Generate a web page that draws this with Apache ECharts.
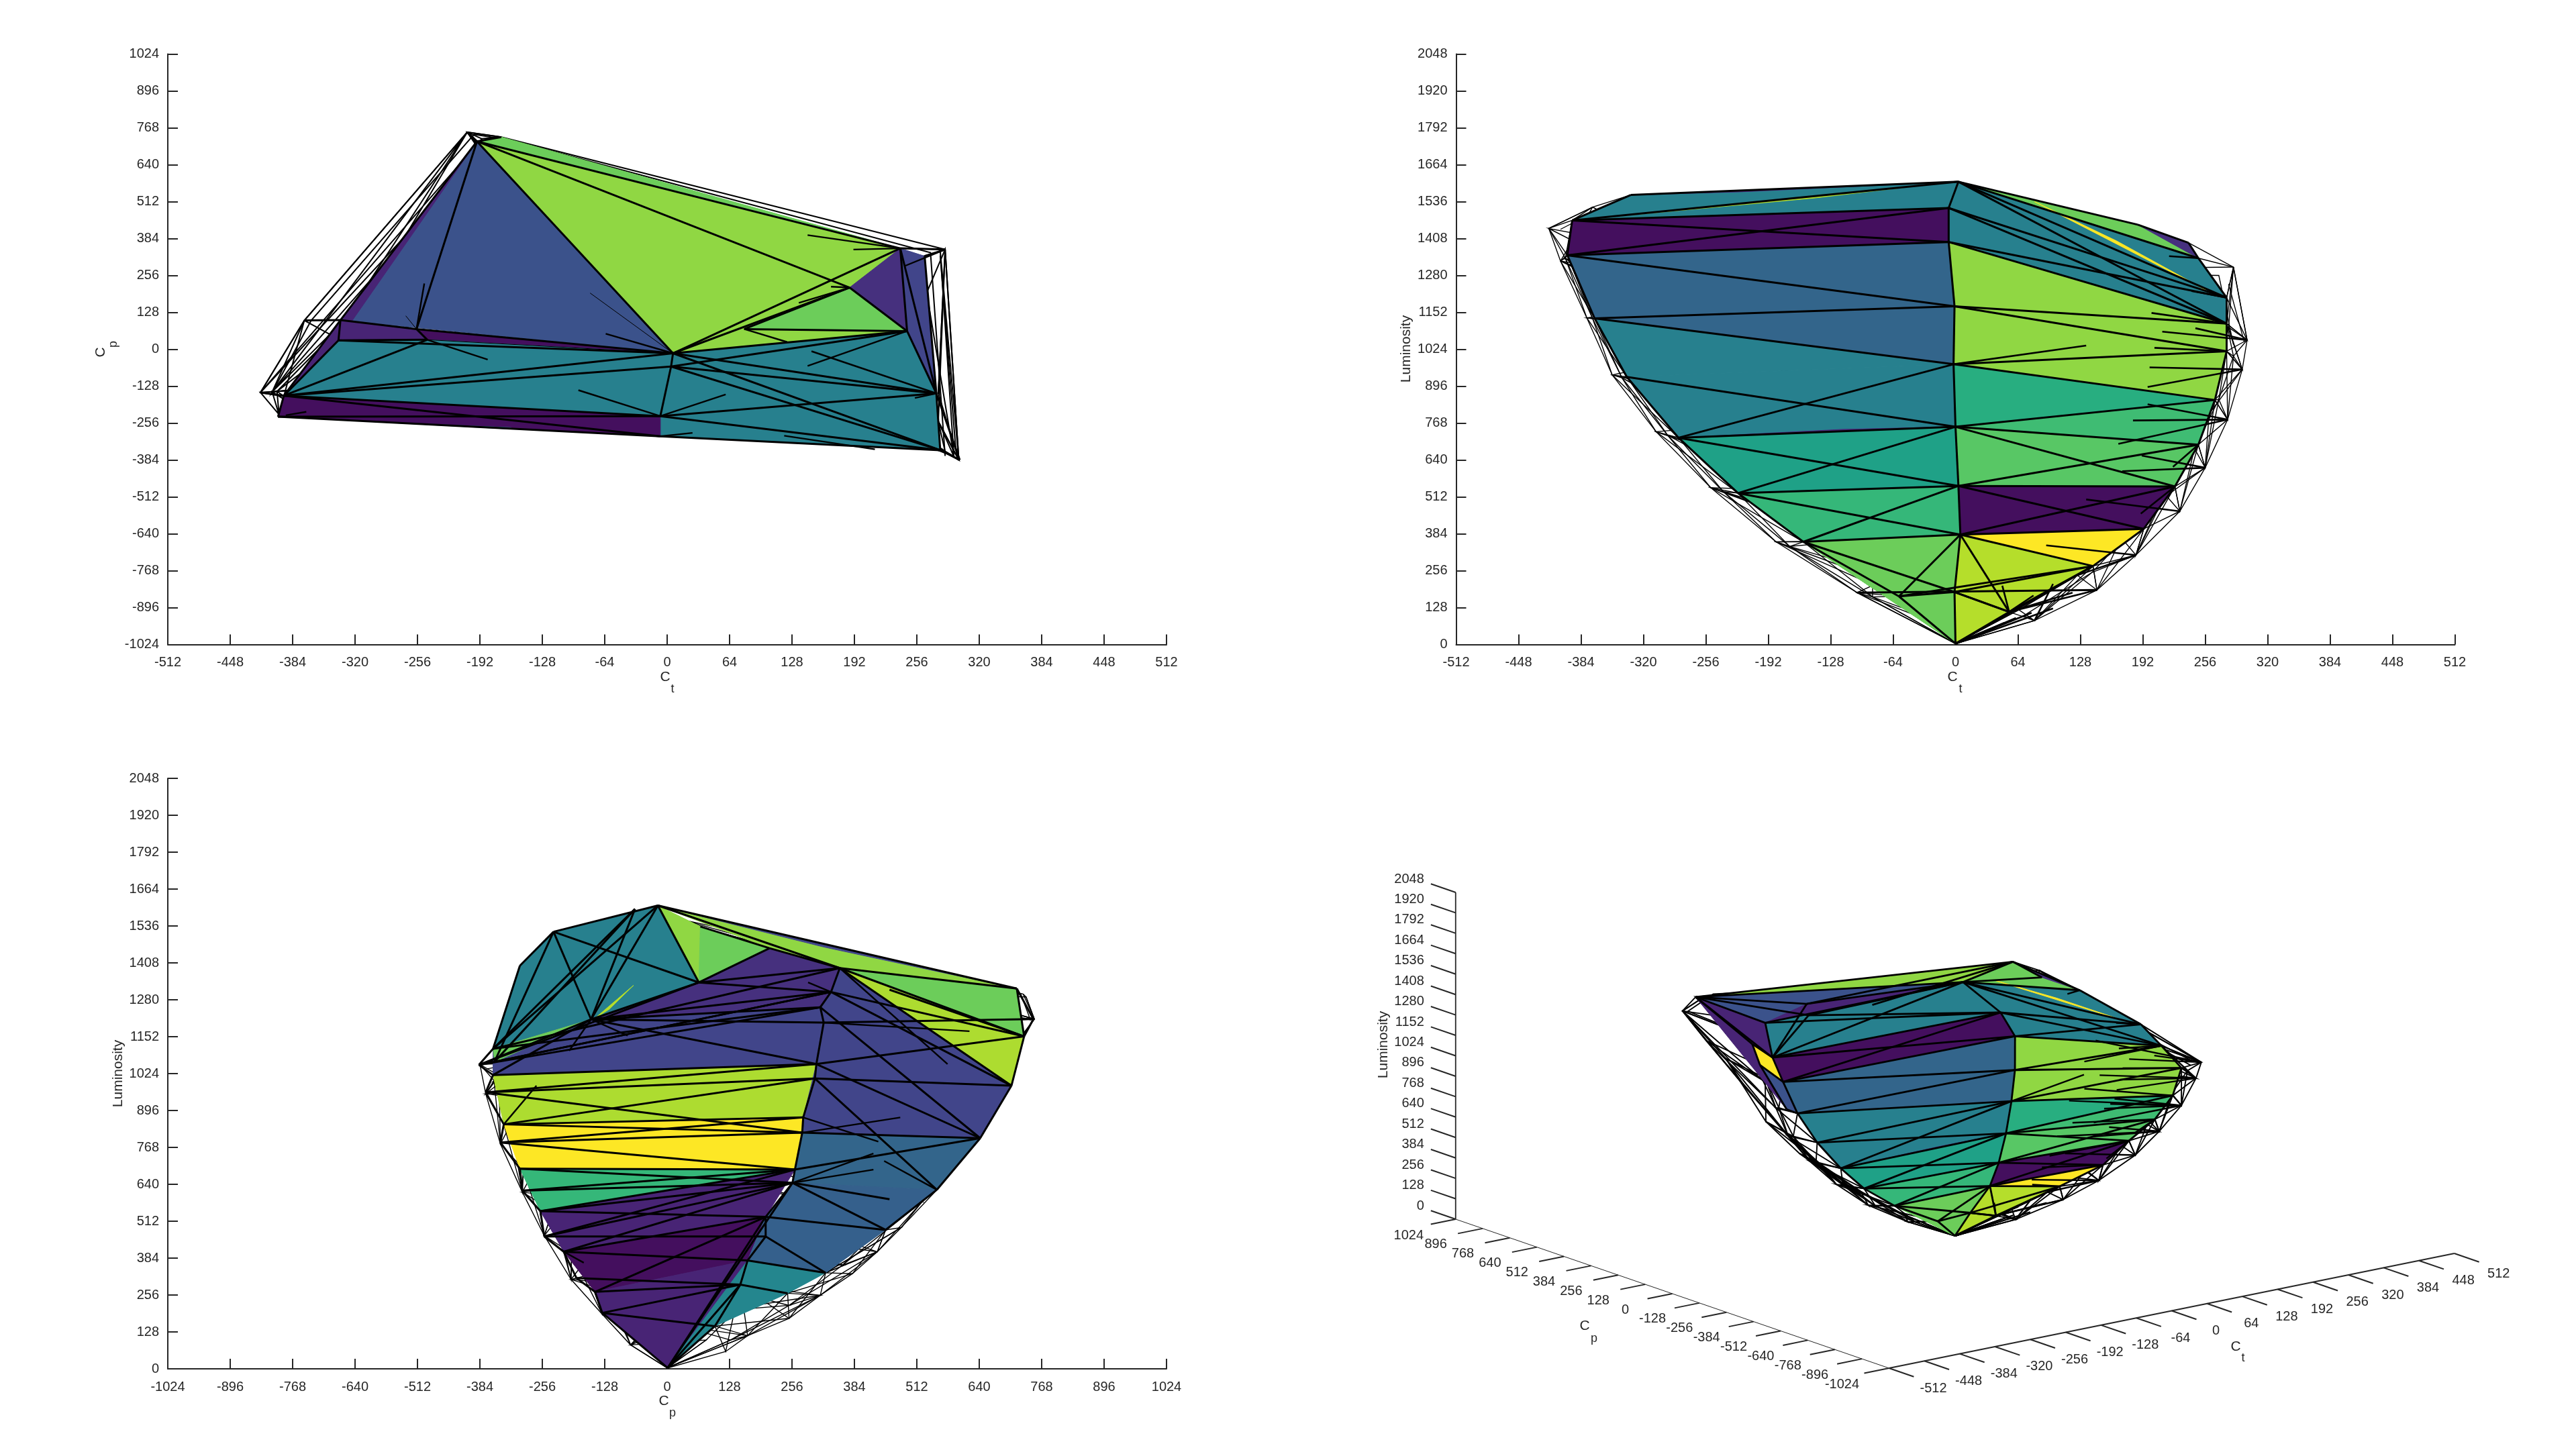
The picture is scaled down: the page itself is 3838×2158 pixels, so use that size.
<!DOCTYPE html>
<html><head><meta charset="utf-8">
<style>html,body{margin:0;padding:0;background:#fff}#c{width:3838px;height:2158px}</style>
<script src="https://cdn.jsdelivr.net/npm/echarts@6/dist/echarts.min.js"></script>
</head><body><div id="c"></div>
<script>
// ---------- tick values ----------
const ctTicks = [-512,-448,-384,-320,-256,-192,-128,-64,0,64,128,192,256,320,384,448,512];
const cpTicks = [-1024,-896,-768,-640,-512,-384,-256,-128,0,128,256,384,512,640,768,896,1024];
const lumTicks = [0,128,256,384,512,640,768,896,1024,1152,1280,1408,1536,1664,1792,1920,2048];

// ---------- face colours (viridis steps) ----------
const palette = {deep:'#440f5e',dark:'#482475',violet:'#46307e',indigo:'#41458a',slate:'#3b528b',steel:'#35608c',blue:'#33658b',
  teal:'#27808e',tealB:'#24868e',sea:'#1fa187',seaB:'#28ae80',green:'#35b779',greenB:'#3fbc73',mid:'#58c765',light:'#6ccd5a',
  lime:'#90d743',oliveB:'#addc30',olive:'#b5de2b',yellow:'#fde725'};

// ---------- 3-D hull points: [Ct, Cp, Luminosity] ----------
const hull = {
 s0:[3,-30,1605],s1:[-7,-234,1514],s2:[-7,-302,1396],s3:[-1,-286,1173],s4:[-2,-272,972],s5:[0,-241,755],s6:[3,-199,550],s7:[5,-152,381],s8:[-1,-75,182],s9:[0,0,3],
 l1:[-333,28,1559],l2:[-393,-163,1471],l3:[-398,-226,1350],l4:[-370,-221,1131],l5:[-337,-228,928],l6:[-284,-201,717],l7:[-223,-152,525],l8:[-156,-122,356],l9:[-58,-70,167],
 r1:[187,77,1456],r2:[239,350,1393],r3:[249,60,1340],r4:[278,-153,1203],r5:[278,-250,1113],r6:[278,-345,1017],r7:[266,-335,848],r8:[249,-295,693],r9:[225,-235,548],r10:[193,-196,401],r11:[141,-127,272],r12:[55,-50,113],
 a1:[-101,-40,180],a2:[-184,-70,356],a3:[-251,-95,544],a4:[-307,-115,738],a5:[-352,-130,935],a6:[-378,-140,1133],a7:[-405,-148,1330],a8:[-417,-150,1443],a9:[-372,100,1517],
 b1:[-85,-35,165],b2:[-170,-68,340],b3:[-238,-92,530],b4:[-295,-113,725],b5:[-342,-128,925],b6:[-372,-138,1130],b7:[-400,-146,1340],
 d1:[81,-75,83],d2:[145,-133,189],d3:[185,-197,310],d4:[230,-252,462],d5:[256,-297,613],d6:[279,-342,780],d7:[294,-372,954],d8:[299,-384,1056],
 f1:[65,-55,120],f2:[125,-110,240],f3:[170,-170,370],f4:[215,-225,520],f5:[245,-275,680],f6:[270,-320,850],f7:[285,-355,1000],
 g1:[-45,165,115],g2:[-85,314,255],g3:[-117,431,406],g4:[-142,523,580],g5:[-172,636,947],g6:[-205,753,1213],
 h1:[-40,130,100],h2:[-75,250,220],h3:[-105,360,360],h4:[-130,460,530],h5:[-160,570,780],h6:[-190,680,1050],
 c:[285,346,1309],c1:[70,80,100],c2:[140,170,250],c3:[210,260,500],c4:[260,320,800],c5:[280,340,1100],c6:[270,335,1280],c7:[280,325,1250],
 e1:[-170,736,1290],e2:[-160,725,1300],a8b:[-405,-150,1440],a9b:[-365,100,1510],g6b:[-198,745,1210],d8b:[285,-370,1040],d8c:[296,-350,1050],
 T1:[-190,730,1300],y1:[-329,100,1391],y2:[-315,100,1250],y3:[-305,0,1010],v1:[-192,200,1500],v2:[-246,50,1535],
 t1:[-53,-20,1585],t2:[-146,10,1548],t3:[-221,20,1570],x1:[-116,-225,746],x2:[-110,-175,535],n1:[81,30,1536],n2:[257,-130,1229],n3:[165,-50,1400],z1:[126,-115,245]
};

// shared front faces (colour, then hull points)
const frontFaces = [
 ['teal','s0','l1','l2'],['teal','s0','s1','l2'],['deep','l2','s1','s2'],['deep','l2','s2','l3'],
 ['blue','l3','s2','s3'],['blue','l3','s3','l4'],['blue','l4','s3','s4'],
 ['teal','l4','s4','l5'],['teal','l5','s4','s5'],['teal','l5','s5','l6'],['dark','l6','s5','x1'],
 ['sea','l6','s5','s6'],['sea','l6','s6','l7'],['green','l7','s6','s7'],['green','l7','s7','l8'],
 ['light','l8','s7','s8'],['light','l8','s8','s9'],['light','l8','s9','l9'],
 ['light','s0','r1','r3'],['light','s0','r2','r3'],['violet','r1','r2','r3'],
 ['teal','s0','r3','r4','r5','s2','s1'],['yellow','n1','n2','n3'],
 ['lime','s2','s3','r6','r5'],['lime','s3','s4','r7','r6'],['seaB','s4','s5','r7'],['greenB','s5','r7','r8'],
 ['mid','s5','s6','r9','r8'],['deep','s6','r9','r10','s7'],['yellow','s7','r10','r11'],
 ['olive','s7','r11','s8'],['olive','s8','r11','r12','s9'],['indigo','r12','r11','z1']
];
const ctLumOnlyFaces = [['olive','l2','t1','t2'],['dark','l1','s0','t3']];
const isoBackFaces = [
 ['lime','T1','r2','s0'],['slate','T1','s0','l1'],['dark','v1','s0','l1'],['dark','T1','l1','l2'],
 ['dark','T1','l2','y1'],['dark','T1','y1','y2','y3'],['slate','y2','l3','l4','y3'],['yellow','y1','l2','l3','y2']
];
const isoFrontExtra = [['dark','l7','s6','x2']];

// shared bold edges
const frontEdges = 's0-l1 l1-l2 l2-l3 l3-l4 l4-l5 l5-l6 l6-l7 l7-l8 l8-l9 l9-s9 s0-r1 r1-r2 r2-r3 r3-r4 r4-r5 r5-r6 r6-r7 r7-r8 r8-r9 r9-r10 r10-r11 r11-r12 r12-s9 s0-s1 s1-s2 s2-s3 s3-s4 s4-s5 s5-s6 s6-s7 s7-s8 s8-s9 s0-l2 s1-l2 s2-l2 l3-s1 l3-s2 l3-s3 l4-s3 l4-s4 l5-s5 l6-s4 l6-s5 l6-s6 l7-s5 l7-s6 l7-s7 l8-s6 l8-s7 l8-s8 l9-s7 l9-s8 s0-r3 s0-r4 s0-r5 s1-r4 s1-r5 s2-r4 s2-r5 s3-r5 s3-r6 s4-r6 s4-r7 s5-r7 s5-r8 s6-r8 s5-r9 s6-r9 s7-r9 s6-r10 s7-r10 s7-r11 s8-r11 s8-r12 s7-r12 r11-s9 r12-s8';
const ctLumEdges = 'a1-d2 l9-r11';
const isoEdges = 'T1-r2 T1-s0 T1-l1 T1-l2 T1-y1 T1-v1 l1-s1 s0-r2 y1-y2 l2-y1 l3-y2 y2-y3 l4-y3 v1-l2 v1-s0 v2-s1 v2-l2 v2-s0 l5-s4 v2-T1 v1-r2 t2-r2';

// stray short strokes: start point, end hull point
const strokes = [
 [[199,-260,961],'d7'],[[197,-250,893],'d7'],[[204,-260,1029],'r6'],[[212,-270,1085],'d8'],[[201,-250,1150],'r5'],[[246,-300,1097],'d8'],
 [[197,-240,833],'d6'],[[182,-230,777],'d6'],[[167,-220,696],'d6'],[[171,-210,601],'d5'],[[191,-230,655],'d5'],[[223,-270,616],'r8'],
 [[134,-170,503],'d4'],[[190,-220,454],'r9'],[[93,-120,344],'d3'],[[134,-260,1037],'s4'],[[242,-130,1226],'r4'],[[219,40,1347],'r3'],
 [[48,-60,204],'r12'],[[80,-90,170],'r12'],[[100,-100,210],'d1'],[[120,-120,180],'r12'],
 [[30,-30,40],'s9'],[[40,-40,55],'s9'],[[50,-50,75],'s9'],[[62,-60,92],'s9'],[[78,-72,110],'s9'],[[100,-95,125],'s9'],[[145,-133,189],'r12'],[[185,-197,310],'f2']
];
const isoStrokes = [
 [[159,-250,1229],'d8'],[[150,-220,1090],'r5'],[[170,-240,1000],'d7'],[[150,-220,920],'r7'],[[130,-200,850],'d6'],
 [[174,-280,835],'d6'],[[140,-190,700],'r8'],[[120,-170,620],'d5'],[[110,-160,500],'r9'],[[100,-150,430],'r10'],[[90,-130,320],'r11']
];

// thin outer shell polylines
const shell = [
 ['s9','a1','a2','a3','a4','a5','a6','a7','a8','a9','l1'],
 ['s9','a1','l9','a2','l8','a3','l7','a4','l6','a5','l5','a6','l4','a7','l3','a8','l2','a9'],
 ['s9','b1','b2','b3','b4','b5','b6','b7','a8'],
 ['s9','b1','a1','b2','a2','b3','a3','b4','a4','b5','a5','b6','a6','b7','a7'],
 ['l9','b1','l8','b2','l7','b3','l6','b4','l5','b5','l4','b6','l3','b7','l2'],
 ['s9','g1','g2','g3','g4','g5','g6','e1','c'],
 ['s9','h1','h2','h3','h4','h5','h6','g6'],
 ['s9','g1','h1','g2','h2','g3','h3','g4','h4','g5','h5','g6','h6'],
 ['s9','h1','a1','h2','a2','h3','a3','h4','a4','h5','a5','h6','a6','g6','a7','a9','g6'],
 ['g6','l1','T1','a8','h6','a7','g5','b7','g4','b5','h4','b4','g3','b3','h3','b2','g2','b1','g1'],
 ['s9','d1','d2','d3','d4','d5','d6','d7','d8','c','r3'],
 ['s9','d1','r12','d2','r11','d3','r10','d4','r9','d5','r8','d6','r7','d7','r6','d8','r5','c','r4'],
 ['s9','f1','f2','f3','f4','f5','f6','f7','d8'],
 ['s9','f1','d1','f2','d2','f3','d3','f4','d4','f5','d5','f6','d6','f7','d7'],
 ['r12','f1','r11','f2','r10','f3','r9','f4','r8','f5','r7','f6','r6','f7','r5'],
 ['d1','r11','d2','r10','d3','r9','d4','r8','d5','r7','d6','r6','d7','r5','d8','r4','c'],
 ['s9','c1','c2','c3','c4','c5','c'],
 ['s9','c1','d1','c2','d3','c3','d5','c4','d7','c5','d8','c'],
 ['a8','a9','g6','e1'],['a8b','a9b','g6b','e2','c6','d8b'],['c7','d8c'],['c','r2'],['g6','T1'],['e1','T1']
];

// ---------- top view: [Ct, Cp] ----------
const topPts = {A:[-195,721],B:[239,350],C:[246,63],D:[276,-153],E:[280,-350],F:[6,-14],G:[4,-60],H:[-7,-232],I:[-7,-302],J:[-393,-161],K:[-399,-234],M:[-337,31],N:[-335,101],O:[-257,70],P:[-246,33],Q:[187,214],R:[79,70],T:[-170,736],U:[264,323],
 sA:[-310,-250],sB:[-160,-277],sC:[-160,-272],a:[-417,-150],b:[-372,100],w:[-205,753],c:[285,346],d:[300,-384],
 k1:[144,396],k2:[191,346],k3:[-249,228],k5:[-63,54],k6:[-184,-36],k7:[-91,-142],k8:[60,-157],k9:[148,-7],k10:[144,-58],k11:[243,288],k12:[135,161],k13:[120,-300],k14:[213,-347],k15:[26,-290],k16:[-391,-229],k17:[-370,-217],k18:[123,25],k19:[254,-169],k20:[168,217],k21:[-268,116],k22:[-79,195]};
const topFaces = [
 ['light','A','T','B'],['lime','A','B','F'],['lime','R','C','F'],['lime','Q','R','F','B'],['light','R','Q','C'],
 ['violet','B','Q','C'],['indigo','B','U','D','C'],['slate','A','F','N'],['dark','A','N','J','M'],['dark','N','O','P','M'],['deep','O','F','P'],
 ['teal','J','M','P','F','C','D','H'],['teal','H','D','E','I'],['deep','J','H','I','K'],['teal','sA','sB','sC']
];
const topEdges = 'A-B A-F F-B A-N N-J J-K K-I I-E J-H K-H J-I H-E H-D J-F M-F J-G J-P M-P M-J N-M N-O O-F G-H F-G G-D F-D F-E G-E F-C R-C F-Q R-Q Q-A Q-C B-C B-D C-D U-D D-E G-C A-O O-P J-a N-b A-w c-U c-B d-E d-D T-A';
const topThin = 'k3-O k5-F k6-P k7-H k8-H k9-D k10-C k11-c k12-Q k13-k14 k15-I k16-k17 k18-R k19-D k20-Q k1-B k2-B';
const topHair = 'P-F k21-O k22-F';

// ---------- side view: [Cp, Luminosity] ----------
const sidePts = {p0:[-19,1607],p0b:[-66,1595],p1:[-233,1516],p2:[-302,1398],p3:[-357,1110],p3b:[-354,1065],p4:[-386,1054],p5:[-357,1019],p6:[-372,959],p7:[-335,848],p8:[-342,785],p9:[-302,694],p10:[-297,618],p11:[-260,547],p12:[-252,459],p12b:[-186,315],p13:[-212,406],p14:[-148,267],p15:[-133,194],t:[1,3],
 q1:[65,1340],q2:[-156,1212],q3:[210,1459],q4:[354,1390],q5:[717,1319],q6:[751,1213],q7:[732,1153],q8:[706,982],q9:[642,800],q10:[553,621],q11:[448,482],q12:[325,333],q13:[247,262],q14:[336,1307],q15:[314,1254],q16:[306,1057],q17:[303,1007],q18:[279,872],q19:[277,819],q20:[262,691],q21:[257,645],q22:[202,527],q22b:[202,459],q23:[165,376],q24:[150,292],q25:[98,148],q26:[68,1534],q27:[321,1201],q28:[456,1315],q29:[456,588],q30:[321,1463],
 k1:[289,1340],k2:[445,721],k3:[478,872],k4:[433,788],k5:[423,747],k6:[423,691],k7:[620,1171],k8:[575,1057],k9:[-268,982],k10:[-81,1156],k11:[-201,1103],k12:[-171,368],
 o1:[-148,1216],o2:[-69,1330],o3:[-119,1247],
 w1:[165,115],w2:[314,255],w3:[431,406],w4:[523,580],w5:[250,175],w6:[380,330],w7:[480,490],w8:[120,60]};
const sideFaces = [
 ['teal','p0','p1','p2','p3','q2','q1'],['olive','o1','o2','o3'],['lime','p0','q26','q1'],['light','q26','q3','q1'],['violet','q1','q3','q4','q14'],
 ['violet','q2','q1','q14','q15'],['indigo','p3','q2','q15','q16','p5'],['light','p3','q2','p3b'],
 ['oliveB','p5','q16','q18','p7'],['yellow','p7','q18','q20','p9'],['green','p9','q20','p11'],
 ['dark','p11','q20','q22','p13'],['deep','p13','q22','q23','p14'],['dark','p14','q23','q25','t','p15'],
 ['indigo','q4','q8','q9','q19','q18','q16','q15','q14'],['blue','q19','q9','q10','q21','q20'],['steel','q21','q10','q11','q12','q23','q22'],
 ['tealB','q23','q12','q13','q25','t'],['oliveB','q4','q8','q7'],['light','q4','q5','q7'],['lime','p0','q3','q4','q5'],['indigo','p0','q5','q30']
];
const sideEdges = 'p0-p1 p1-p2 p2-p3 p3-p4 p4-p5 p5-p6 p6-p7 p7-p8 p8-p9 p9-p10 p10-p11 p11-p12 p12-p13 p13-p12b p12b-p14 p14-p15 p15-t p0-q5 q5-q6 q6-q7 q7-q8 q8-q9 q9-q10 q10-q11 t-q25 q4-q14 q14-q15 q15-q27 q27-q16 q16-q17 q17-q18 q18-q19 q19-q20 q20-q21 q21-q22 q22-q22b q22b-q23 q23-q24 q24-q25 t-q22 t-q21 t-q24 p3-q4 p3b-q14 p4-q15 p4-q2 p5-q16 p5-q2 q2-q15 q2-q16 q2-q1 q1-q4 q1-q14 p6-q17 p6-q16 p7-q17 p6-q19 p7-q18 p7-q19 p8-q18 p8-q19 p9-q20 p10-q20 p8-q20 p9-q21 p10-q21 p11-q22 p11-q20 p12-q22b p12-q21 p13-q22 p13-q23 p12b-q24 p14-q22 p14-q24 p15-q24 p15-q25 q4-q8 q14-q8 q14-q7 q27-q6 q16-q7 q17-q8 q15-q9 q16-q9 q17-q10 q19-q9 q20-q9 q21-q29 q21-q11 q22-q11 q22b-q12 q23-q12 q24-q13 p0-q2 p0b-p3 p0-p3 p0-q1 p1-q1 p1-q2 q26-q3 q1-q3 q3-q4 p0-q4 q4-q5 q4-q7 q28-q7 q5-q7 p4-q14 p4-q1 p3-q15 q2-q27 p11-q21 p12-q20 p13-q21 q2-q14 p0b-q2 p1-p3b p0b-p3b';
const sideThin = 'k1-q14 k2-q10 k3-q19 k4-q18 k5-q21 k6-q21 k7-q27 k8-q4 k9-p7 k10-q2 k11-q2 k12-p13';
const sideShell = [
 ['t','w8','w1','w5','w2','w6','w3','w7','w4','q10'],
 ['t','q25','w8','q24','w1','q25','w5','q13','w2','q12','w6','q11','w3','q12','w7','q10'],
 ['q24','w5','q12','w3','q11','w4','q11','w7','q12'],['w1','q13','w6','q13']
];

// ---------- axis titles: text, x, y, size, rotation quarter-turns ----------
const axisTitles = [
 ['C',991,1009,21,0],['t',1002,1027,18,0],['C',150,525,21,1],['p',169,513,18,1],
 ['C',2909,1009,21,0],['t',2921,1027,18,0],['Luminosity',2095.5,520,21,1],
 ['C',989,2088,21,0],['p',1002,2106,18,0],['Luminosity',176,1600,21,1],
 ['Luminosity',2061,1557,21,1],['C',2361,1976,21,0],['p',2375,1995,18,0],['C',3331,2007,21,0],['t',3342,2024,18,0]
];

// ---------- helpers ----------
const FONT = '"Liberation Sans",Arial,sans-serif', INK = '#262626';
const iso = (ct,cp,l)=>[0.8225*ct-0.3153*cp, 0.167*ct+0.1084*cp+0.2378*l];
const viewCtCp = v=>[v[0],v[1]], viewCtL = v=>[v[0],v[2]], viewCpL = v=>[v[1],v[2]], viewIso = v=>iso(v[0],v[1],v[2]);
const pairs = s=>s.split(' ').map(e=>e.split('-'));
function faceItems(list, pt){ return list.map(f=>({fill:palette[f[0]],pts:f.slice(1).map(pt)})); }
function edgeItems(str, pt, width){ return pairs(str).map(([a,b])=>({stroke:'#000',width,pts:[pt(a),pt(b)]})); }
function shapeSeries(name, grid, items, z){
  return {type:'custom',name,xAxisIndex:grid,yAxisIndex:grid,z,silent:true,animation:false,clip:false,
    data:items.map((it,i)=>[it.pts[0][0],it.pts[0][1],i]),encode:{x:0,y:1},
    renderItem(params,api){
      const it=items[params.dataIndex];
      const points=it.pts.map(p=>api.coord(p));
      if(it.text!==undefined){const q=points[0];return {type:'text',style:{text:it.text,x:q[0]+it.dx,y:q[1]+it.dy,align:it.align,verticalAlign:'middle',fontSize:20,fontFamily:FONT,fill:INK}};}
      if(it.fill) return {type:'polygon',shape:{points},style:{fill:it.fill,stroke:it.fill,lineWidth:1}};
      return {type:'polyline',shape:{points},style:{fill:null,stroke:it.stroke,lineWidth:it.width}};
    }};
}
const P3 = n=>hull[n];
const wires=(view,width)=>{const out=[];shell.forEach(line=>out.push({stroke:'#000',width,pts:line.map(n=>view(P3(n)))}));return out;};
const strokeItems=(list,view,width)=>list.map(([s,e])=>({stroke:'#000',width,pts:[view(s),view(P3(e))]}));

// ---------- panels ----------
const pTop = n=>topPts[n], pSide = n=>sidePts[n], pCtL = n=>viewCtL(P3(n)), pIso = n=>viewIso(P3(n));
const series = [
 shapeSeries('Ct-Cp shell',0,wires(viewCtCp,2),2),
 shapeSeries('Ct-Cp faces',0,faceItems(topFaces,pTop),3),
 shapeSeries('Ct-Cp edges',0,edgeItems(topEdges,pTop,3).concat(edgeItems(topThin,pTop,2.4),edgeItems(topHair,pTop,1)),4),

 shapeSeries('Ct-L shell',1,wires(viewCtL,1.4),2),
 shapeSeries('Ct-L faces',1,faceItems(frontFaces.concat(ctLumOnlyFaces),pCtL),3),
 shapeSeries('Ct-L edges',1,edgeItems(frontEdges+' '+ctLumEdges,pCtL,3).concat(strokeItems(strokes,viewCtL,2.6)),4),

 shapeSeries('Cp-L shell',2,wires(viewCpL,1.4).concat(sideShell.map(l=>({stroke:'#000',width:1.4,pts:l.map(pSide)}))),2),
 shapeSeries('Cp-L faces',2,faceItems(sideFaces,pSide),3),
 shapeSeries('Cp-L edges',2,edgeItems(sideEdges,pSide,3).concat(edgeItems(sideThin,pSide,2.4)),4),

 shapeSeries('3D shell',3,wires(viewIso,1.9),2),
 shapeSeries('3D faces',3,faceItems(isoBackFaces.concat(frontFaces,isoFrontExtra),pIso),3),
 shapeSeries('3D edges',3,edgeItems(frontEdges+' '+isoEdges,pIso,2.8).concat(strokeItems(strokes,viewIso,2.4),strokeItems(isoStrokes,viewIso,2.4)),4)
];

// 3-D box axes, projected through the same hidden plane axes
const axis3d=[];
const line3=(a,b,w)=>axis3d.push({stroke:INK,width:w,pts:[iso(...a),iso(...b)]});
line3([-512,1024,0],[-512,1024,2048],1.8);
line3([-512,1024,0],[-512,-1024,0],1);
line3([-512,-1024,0],[512,-1024,0],2);
lumTicks.forEach(l=>{line3([-512,1024,l],[-512,1141,l],2);axis3d.push({text:String(l),pts:[iso(-512,1024,l)],dx:-47,dy:-20,align:'right'});});
cpTicks.forEach(c=>{line3([-512,c,0],[-557,c,0],2);axis3d.push({text:String(c),pts:[iso(-512,c,0)],dx:-70,dy:24,align:'center'});});
ctTicks.forEach(c=>{line3([c,-1024,0],[c,-1141,0],2);axis3d.push({text:String(c),pts:[iso(c,-1024,0)],dx:66,dy:30,align:'center'});});
series.push(shapeSeries('3D axes',3,axis3d,5));

function valueAxis(grid,min,max,interval,horizontal){
  return {type:'value',gridIndex:grid,min,max,interval,position:horizontal?'bottom':'left',
    axisLine:{show:true,onZero:false,lineStyle:{color:INK,width:2}},
    axisTick:{show:true,inside:true,length:15,lineStyle:{color:INK,width:2}},
    splitLine:{show:false},
    axisLabel:{show:true,color:INK,fontSize:20,fontFamily:FONT,margin:horizontal?17:13,padding:horizontal?0:[10,0,0,0],
      formatter:v=>String(v),showMinLabel:true,showMaxLabel:true,hideOverlap:false}};
}
const option = {
  backgroundColor:'#fff',animation:false,
  grid:[
    {left:250,top:80.5,width:1488,height:880},
    {left:2169.5,top:80.5,width:1488,height:880},
    {left:250,top:1160,width:1488,height:880},
    {left:2100,top:1300,width:1700,height:800}
  ],
  xAxis:[
    valueAxis(0,-512,512,64,true),valueAxis(1,-512,512,64,true),valueAxis(2,-1024,1024,128,true),
    {type:'value',gridIndex:3,min:-812.75,max:887.25,show:false}
  ],
  yAxis:[
    valueAxis(0,-1024,1024,128,false),valueAxis(1,0,2048,128,false),valueAxis(2,0,2048,128,false),
    {type:'value',gridIndex:3,min:-257.5,max:542.5,show:false}
  ],
  graphic:axisTitles.map(([text,x,y,size,q])=>({type:'text',x,y,rotation:q*Math.PI/2,silent:true,z:10,
    style:{text,fontSize:size,fontFamily:FONT,fill:INK,align:'center',verticalAlign:'middle'}})),
  series
};
echarts.init(document.getElementById('c'),null,{renderer:'canvas'}).setOption(option);
</script></body></html>
